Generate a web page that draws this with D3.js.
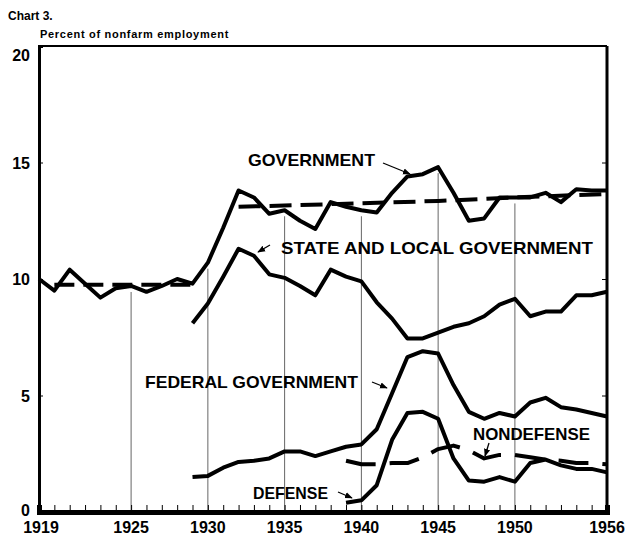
<!DOCTYPE html>
<html>
<head>
<meta charset="utf-8">
<script src="https://cdn.jsdelivr.net/npm/d3@7"></script>
<style>
  body { margin: 0; background: #fff; }
  svg { display: block; }
  text { font-family: "Liberation Sans", Arial, sans-serif; font-weight: bold; fill: #000; }
</style>
</head>
<body>
<div id="chart"></div>
<script>
// Years for each series
const govYears = d3.range(1919, 1957);
const subYears = d3.range(1929, 1957);
const warYears = d3.range(1939, 1957);

// Total government, percent of nonfarm employment
const govValues = [10.0, 9.5, 10.4, 9.8, 9.2, 9.6, 9.7, 9.45, 9.7, 10.0,
  9.8, 10.7, 12.2, 13.8, 13.5, 12.8, 12.95, 12.5, 12.15, 13.3,
  13.1, 12.95, 12.85, 13.7, 14.4, 14.5, 14.8, 13.7, 12.5, 12.6,
  13.5, 13.5, 13.5, 13.7, 13.3, 13.85, 13.8, 13.8];

// Dashed trend lines for government
const trendEarly = [[1920, 9.75], [1925, 9.75], [1929, 9.75]];
const trendLate = [[1932, 13.1], [1940, 13.25], [1945, 13.35], [1950, 13.5], [1956, 13.65]];

const stateLocalValues = [8.1, 8.95, 10.1, 11.3, 11.0, 10.2, 10.05, 9.7, 9.3, 10.4,
  10.1, 9.9, 9.0, 8.3, 7.45, 7.45, 7.7, 7.95, 8.1, 8.4,
  8.9, 9.15, 8.4, 8.6, 8.6, 9.3, 9.3, 9.45];

const federalValues = [1.5, 1.55, 1.9, 2.15, 2.2, 2.3, 2.6, 2.6, 2.4, 2.6,
  2.8, 2.9, 3.55, 5.1, 6.65, 6.9, 6.8, 5.45, 4.3, 4.0,
  4.25, 4.1, 4.7, 4.9, 4.5, 4.4, 4.25, 4.1];

const defenseValues = [0.4, 0.5, 1.15, 3.1, 4.25, 4.3, 4.0, 2.3, 1.35, 1.3,
  1.5, 1.3, 2.1, 2.25, 2.0, 1.85, 1.85, 1.7];

const nondefenseValues = [2.2, 2.05, 2.05, 2.1, 2.1, 2.35, 2.7, 2.85, 2.65, 2.3,
  2.45, 2.45, 2.35, 2.25, 2.2, 2.1, 2.1, 2.05];

const yTicks = [0, 5, 10, 15, 20];
const xLabels = [1919, 1925, 1930, 1935, 1940, 1945, 1950, 1956];
const gridYears = [1925, 1930, 1935, 1940, 1945, 1950];

const width = 627, height = 538;
const svg = d3.select("#chart").append("svg")
    .attr("width", width)
    .attr("height", height);

const x = d3.scaleLinear().domain([1919, 1956]).range([39, 607]);
const y = d3.scaleLinear().domain([0, 20]).range([512, 46]);

const line = d3.line()
    .x(d => x(d[0]))
    .y(d => y(d[1]))
    .curve(d3.curveLinear);

const zip = (years, vals) => years.map((yr, i) => [yr, vals[i]]);

// Titles
svg.append("text").attr("x", 8).attr("y", 20)
    .style("font-size", "12px").text("Chart 3.");
svg.append("text").attr("x", 40).attr("y", 38)
    .style("font-size", "11px").style("letter-spacing", "0.7px")
    .text("Percent of nonfarm employment");

// Gridlines, baseline up to just under the government line
svg.append("g")
  .selectAll("line")
  .data(gridYears)
  .enter().append("line")
    .attr("x1", d => x(d)).attr("x2", d => x(d))
    .attr("y1", y(0))
    .attr("y2", d => y(govValues[govYears.indexOf(d)]) + 6)
    .attr("stroke", "#666")
    .attr("stroke-width", 1);

// Frame
svg.append("line").attr("x1", x(1919)).attr("x2", x(1956))
    .attr("y1", y(20)).attr("y2", y(20))
    .attr("stroke", "#000").attr("stroke-width", 2);
svg.append("line").attr("x1", x(1956)).attr("x2", x(1956))
    .attr("y1", y(20)).attr("y2", y(0))
    .attr("stroke", "#000").attr("stroke-width", 3);

// Left axis
const yAxis = svg.append("g")
    .attr("transform", `translate(${x(1919)},0)`)
    .call(d3.axisLeft(y).tickValues(yTicks).tickSize(-4).tickPadding(9).tickFormat(d3.format("d")));
yAxis.select(".domain").attr("stroke-width", 3);
yAxis.selectAll("text")
    .style("font-size", "16px")
    .attr("dy", d => d === 20 ? "0.9em" : d === 0 ? "0.2em" : "0.36em");

// Right ticks
svg.append("g")
    .attr("transform", `translate(${x(1956)},0)`)
    .call(d3.axisRight(y).tickValues([5, 10, 15]).tickSize(-5).tickFormat(""))
    .select(".domain").remove();

// Bottom axis
const xAxis = svg.append("g")
    .attr("transform", `translate(0,${y(0)})`)
    .call(d3.axisBottom(x).tickValues(d3.range(1919, 1957)).tickSize(-7).tickFormat(""));
xAxis.select(".domain").attr("stroke-width", 5);

svg.append("g")
  .selectAll("text")
  .data(xLabels)
  .enter().append("text")
    .attr("x", d => x(d) + (d === 1919 ? 2 : 0))
    .attr("y", 533)
    .attr("text-anchor", "middle")
    .style("font-size", "16px")
    .text(d => d);

// Series
const series = [
  { data: zip(govYears, govValues), dash: null },
  { data: trendEarly, dash: "20,9" },
  { data: trendLate, dash: "22,9" },
  { data: zip(subYears, stateLocalValues), dash: null },
  { data: zip(subYears, federalValues), dash: null },
  { data: zip(warYears, defenseValues), dash: null },
  { data: zip(warYears, nondefenseValues), dash: "30,14" }
];

svg.append("g")
  .selectAll("path")
  .data(series)
  .enter().append("path")
    .attr("d", d => line(d.data))
    .attr("fill", "none")
    .attr("stroke", "#000")
    .attr("stroke-width", 4)
    .attr("stroke-linejoin", "round")
    .attr("stroke-dasharray", d => d.dash);

// Labels with arrows
const labels = [
  { text: "GOVERNMENT", x: 248, y: 166, w: 127, arrow: [383, 163, 410, 174] },
  { text: "STATE AND LOCAL GOVERNMENT", x: 281, y: 254, w: 312, arrow: [270, 245, 258, 252] },
  { text: "FEDERAL GOVERNMENT", x: 145, y: 388, w: 213, arrow: [372, 382, 387, 388] },
  { text: "NONDEFENSE", x: 473, y: 440, w: 117, arrow: [489, 443, 485, 456] },
  { text: "DEFENSE", x: 253, y: 499, w: 75, arrow: [338, 492, 352, 498] }
];

svg.append("defs").append("marker")
    .attr("id", "head")
    .attr("viewBox", "0 0 10 10")
    .attr("refX", 9).attr("refY", 5)
    .attr("markerWidth", 6).attr("markerHeight", 6)
    .attr("orient", "auto")
  .append("path")
    .attr("d", "M0,1L10,5L0,9Z")
    .attr("fill", "#000");

const lab = svg.append("g").selectAll("g").data(labels).enter().append("g");
lab.append("text")
    .attr("x", d => d.x).attr("y", d => d.y)
    .attr("textLength", d => d.w)
    .attr("lengthAdjust", "spacingAndGlyphs")
    .style("font-size", "17px")
    .text(d => d.text);
lab.append("line")
    .attr("x1", d => d.arrow[0]).attr("y1", d => d.arrow[1])
    .attr("x2", d => d.arrow[2]).attr("y2", d => d.arrow[3])
    .attr("stroke", "#000").attr("stroke-width", 1.3)
    .attr("marker-end", "url(#head)");
</script>
</body>
</html>
